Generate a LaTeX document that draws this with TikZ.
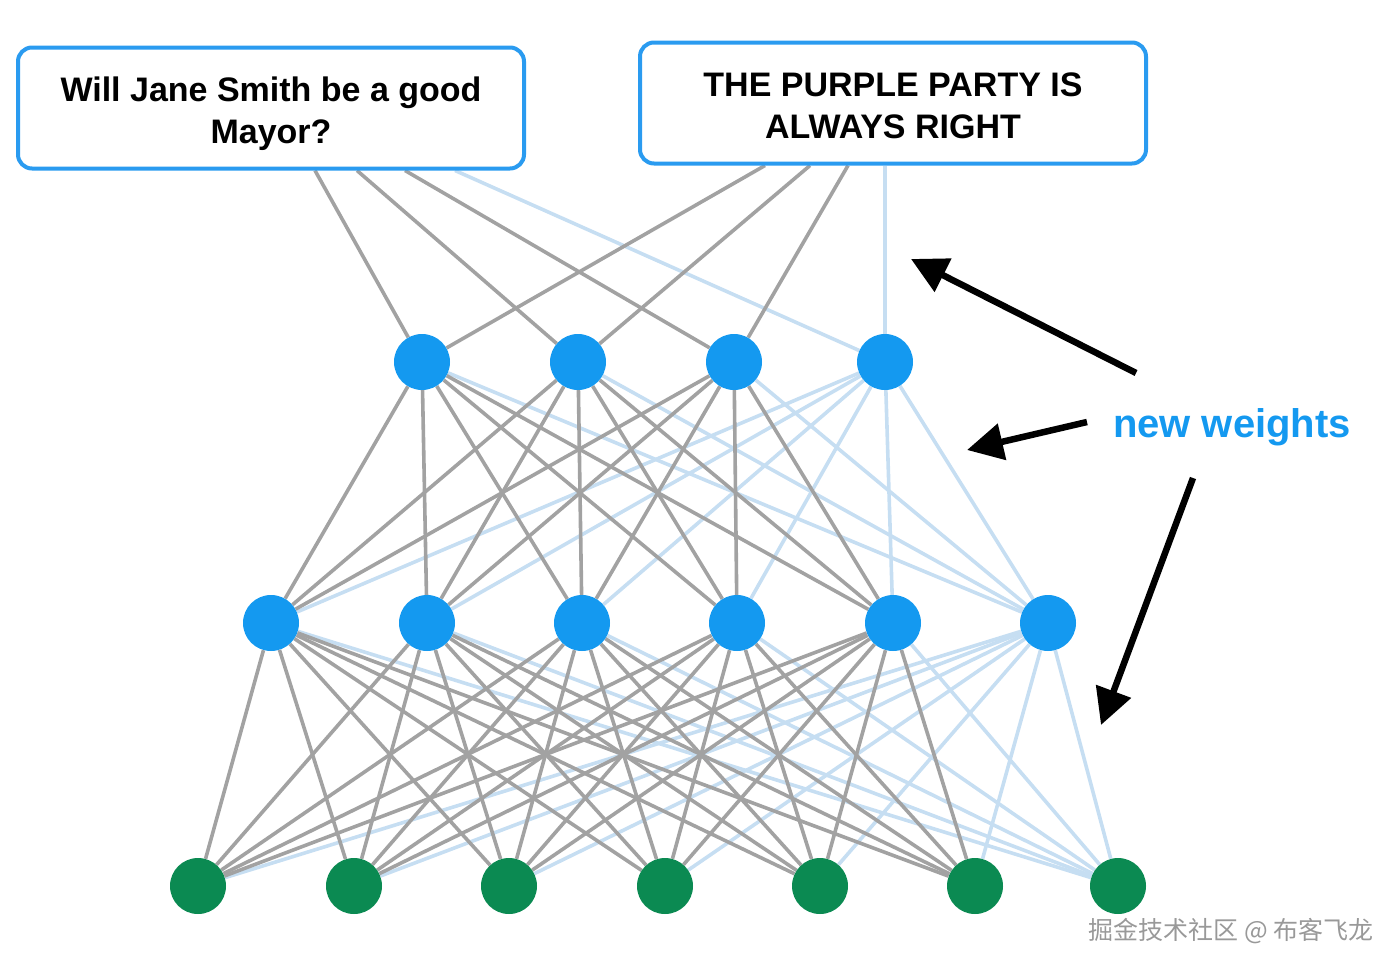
\documentclass[tikz,border=0pt]{standalone}
\usepackage{fontspec}
\setmainfont{Liberation Sans}
\newfontfamily\cjkfont{Noto Sans CJK SC}
\usetikzlibrary{arrows.meta,backgrounds}
\definecolor{nodeblue}{HTML}{1499F0}
\definecolor{nodegreen}{HTML}{0B8A52}
\definecolor{edgegray}{HTML}{A2A2A2}
\definecolor{edgelight}{HTML}{C6DEF2}
\definecolor{boxblue}{HTML}{2A9BF0}
\tikzset{
	unit/.style={circle, minimum size=56pt, inner sep=0pt},
	oldw/.style={draw=edgegray, line width=3.6pt},
	neww/.style={draw=edgelight, line width=3.6pt},
	qbox/.style={draw=boxblue, line width=4pt, fill=white, rounded corners=14pt,
		minimum width=506pt, minimum height=121pt, align=center,
		font=\fontsize{34}{42}\selectfont\bfseries},
	pointer/.style={line width=6.5pt, -{Triangle[length=36pt,width=36pt]}}
}
\begin{document}
\begin{tikzpicture}[x=1pt, y=-1pt]
	\useasboundingbox (0,0) rectangle (1400,969);
	% Questions
	\node [qbox] (q) at (271,108) {\rule{0pt}{36pt}Will Jane Smith be a good\\Mayor?};
	\node [qbox] (p) at (893,103) {\rule{0pt}{30pt}THE PURPLE PARTY IS\\ALWAYS RIGHT};
	\foreach \dx [count=\i] in {44, 86, 134, 184} {
		\coordinate (q\i) at ([xshift=\dx pt]q.south);
	}
	\foreach \dx [count=\i] in {-128, -83, -45, -8} {
		\coordinate (p\i) at ([xshift=\dx pt]p.south);
	}
	% Layer 1
	\foreach \x [count=\i] in {422, 578, 734, 885} {
		\node [unit, fill=nodeblue] (a\i) at (\x,362) {};
	}
	% Layer 2
	\foreach \x [count=\i] in {271, 427, 582, 737, 893, 1048} {
		\node [unit, fill=nodeblue] (b\i) at (\x,623) {};
	}
	% Layer 3
	\foreach \x [count=\i] in {198, 354, 509, 665, 820, 975, 1118} {
		\node [unit, fill=nodegreen] (c\i) at (\x,886) {};
	}
	\begin{scope}[on background layer]
		% New weights
		\draw [neww] (q4) -- (a4);
		\draw [neww] (p4) -- (a4);
		\foreach \j in {1, ..., 6} {
			\draw [neww] (a4) -- (b\j);
		}
		\foreach \i in {1, ..., 3} {
			\draw [neww] (a\i) -- (b6);
		}
		\foreach \k in {1, ..., 7} {
			\draw [neww] (b6) -- (c\k);
		}
		\foreach \j in {1, ..., 5} {
			\draw [neww] (b\j) -- (c7);
		}
		% Old weights
		\foreach \i in {1, ..., 3} {
			\draw [oldw] (q\i) -- (a\i);
			\draw [oldw] (p\i) -- (a\i);
		}
		\foreach \i in {1, ..., 3} {
			\foreach \j in {1, ..., 5} {
				\draw [oldw] (a\i) -- (b\j);
			}
		}
		\foreach \j in {1, ..., 5} {
			\foreach \k in {1, ..., 6} {
				\draw [oldw] (b\j) -- (c\k);
			}
		}
	\end{scope}
	% Label
	\node [text=nodeblue, font=\fontsize{40}{40}\selectfont\bfseries] (lbl) at (1232,427) {new weights};
	\coordinate (t1) at (1136,373);
	\coordinate (h1) at (911,259);
	\coordinate (t2) at (1087,422);
	\coordinate (h2) at (967,450);
	\coordinate (t3) at (1193,478);
	\coordinate (h3) at (1101,725);
	\draw [pointer] (t1) -- (h1);
	\draw [pointer] (t2) -- (h2);
	\draw [pointer] (t3) -- (h3);
	% Watermark
	\node [text=gray!80, font=\cjkfont\fontsize{25}{25}\selectfont] (wm) at (1231,931) {掘金技术社区 @ 布客飞龙};
\end{tikzpicture}
\end{document}
